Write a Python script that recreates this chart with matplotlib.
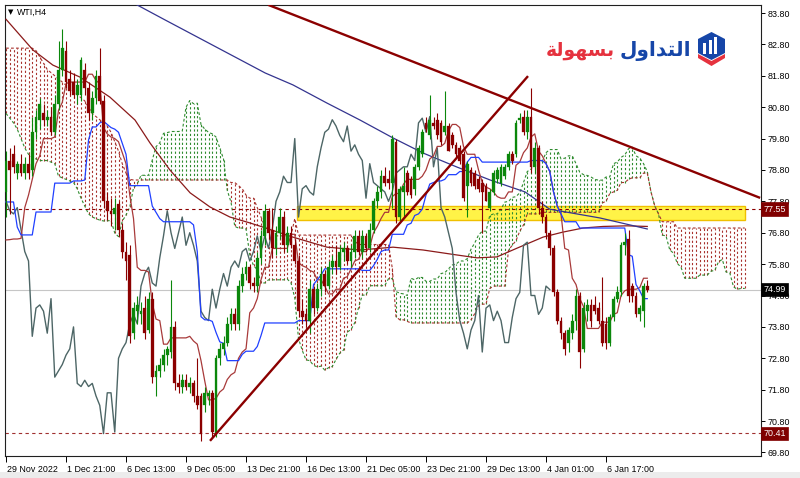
import numpy as np
import pandas as pd
import matplotlib
matplotlib.use("Agg")
import matplotlib.pyplot as plt
import matplotlib.transforms as mtrans
from matplotlib.patches import Rectangle, Polygon
from matplotlib.collections import LineCollection

# ---------------- data (WTI, H4) ----------------
opens = [78.1, 79.1, 79.3, 78.7, 79.0, 78.7, 79.0, 78.8, 80.0, 80.4,
         80.6, 80.4, 80.5, 80.0, 80.9, 82.0, 82.6, 81.7, 81.6, 81.2,
         81.2, 82.0, 81.4, 80.6, 81.1, 81.8, 81.0, 77.8, 77.5, 77.4,
         77.7, 76.9, 76.2, 76.1, 73.6, 74.3, 74.2, 74.4, 73.7, 74.7,
         72.2, 72.4, 72.6, 72.9, 73.0, 73.8, 72.0, 71.9, 72.1, 71.9,
         72.0, 71.6, 71.6, 71.3, 71.6, 71.7, 70.4, 72.8, 73.1, 73.3,
         73.9, 74.2, 73.9, 75.1, 75.5, 75.7, 75.2, 75.1, 76.0, 76.7,
         77.5, 76.9, 76.3, 76.8, 77.3, 76.4, 76.8, 76.4, 75.9, 74.3,
         74.2, 74.0, 75.0, 74.4, 75.0, 75.5, 75.1, 75.7, 75.9, 75.7,
         76.2, 76.3, 75.9, 76.2, 76.7, 76.2, 76.7, 76.3, 76.9, 77.8,
         78.1, 78.6, 78.5, 78.4, 79.7, 77.3, 78.1, 78.7, 78.5, 78.2,
         78.9, 79.3, 80.3, 79.9, 80.3, 80.4, 80.3, 80.0, 80.2, 79.9,
         79.6, 79.5, 79.3, 78.3, 78.8, 78.7, 78.5, 78.4, 78.3, 77.6,
         78.1, 78.5, 78.4, 78.6, 78.9, 79.3, 79.3, 80.4, 80.5, 80.0,
         80.5, 78.9, 79.5, 77.6, 77.3, 76.8, 76.3, 74.9, 74.0, 73.6,
         73.3, 73.6, 74.0, 74.8, 73.1, 74.3, 74.5, 74.5, 74.4, 74.0,
         73.9, 73.3, 74.1, 74.7, 74.9, 76.4, 76.6, 75.1, 74.8, 74.2,
         74.3, 75.1]
highs = [79.4, 79.5, 79.6, 79.1, 79.3, 79.2, 79.3, 80.5, 80.7, 81.1,
         80.9, 80.7, 80.8, 81.2, 82.9, 83.3, 82.9, 82.0, 81.9, 81.7,
         82.4, 82.2, 81.6, 81.3, 82.0, 82.7, 81.2, 78.1, 77.9, 77.9,
         77.8, 77.1, 76.5, 76.4, 74.6, 74.8, 74.6, 74.8, 74.9, 74.9,
         72.6, 72.8, 73.1, 73.2, 75.3, 74.0, 72.3, 72.3, 72.3, 72.2,
         72.1, 72.8, 71.7, 71.9, 71.8, 71.8, 72.9, 73.3, 73.5, 74.1,
         74.4, 74.4, 75.3, 75.7, 75.9, 75.8, 75.4, 76.2, 76.9, 77.7,
         77.6, 77.6, 77.0, 77.6, 77.5, 77.0, 77.0, 76.6, 76.1, 74.7,
         74.4, 75.3, 75.1, 75.2, 75.7, 75.6, 75.9, 76.1, 76.4, 76.4,
         76.5, 76.4, 76.4, 76.9, 76.9, 76.9, 76.8, 77.1, 77.9, 78.3,
         78.8, 78.9, 78.8, 79.9, 79.8, 78.3, 78.9, 78.8, 78.6, 79.0,
         79.6, 80.1, 80.5, 81.2, 80.5, 80.6, 80.4, 81.3, 80.3, 80.0,
         79.7, 79.6, 79.4, 79.1, 78.9, 78.8, 78.6, 78.5, 78.4, 78.2,
         78.8, 78.9, 79.0, 79.0, 79.4, 79.4, 80.4, 80.6, 80.7, 80.7,
         81.4, 79.7, 79.6, 77.8, 77.4, 76.9, 76.4, 75.0, 74.1, 73.7,
         73.8, 74.2, 75.0, 74.9, 74.6, 74.7, 74.7, 74.8, 74.6, 75.4,
         74.1, 74.2, 74.8, 75.1, 76.5, 76.8, 76.9, 75.2, 74.9, 74.5,
         75.2, 75.3]
lows = [77.3, 77.4, 78.7, 78.5, 78.6, 78.5, 78.5, 78.6, 79.8, 80.1,
        80.2, 80.2, 79.9, 79.9, 80.7, 81.8, 81.4, 81.2, 81.1, 80.9,
        81.0, 81.2, 80.4, 80.4, 80.9, 80.9, 77.6, 77.2, 77.0, 76.9,
        76.7, 76.0, 75.3, 73.3, 73.4, 73.9, 73.9, 73.4, 73.6, 72.0,
        71.6, 72.2, 72.4, 72.6, 72.8, 71.8, 71.7, 71.7, 71.8, 71.7,
        71.4, 71.2, 70.15, 71.1, 71.3, 70.3, 70.3, 72.6, 72.9, 73.2,
        73.7, 73.7, 73.7, 74.9, 75.3, 75.0, 74.9, 74.9, 75.8, 76.4,
        76.6, 76.0, 76.1, 76.6, 76.2, 76.2, 76.3, 75.8, 74.1, 73.9,
        73.8, 73.6, 74.2, 74.3, 74.8, 74.9, 75.0, 75.5, 75.5, 75.6,
        75.9, 75.8, 75.7, 76.0, 76.1, 76.0, 76.2, 76.2, 76.8, 77.6,
        77.9, 78.3, 78.2, 77.6, 77.1, 77.1, 77.3, 78.0, 77.9, 78.0,
        78.8, 79.2, 80.0, 79.8, 80.1, 79.8, 79.6, 79.9, 79.4, 79.5,
        79.2, 79.0, 77.8, 77.3, 78.3, 78.2, 78.1, 76.8, 77.8, 77.5,
        78.0, 78.4, 78.3, 78.5, 78.8, 79.0, 79.2, 80.3, 79.9, 79.8,
        78.7, 78.7, 77.4, 77.1, 76.6, 76.1, 74.8, 73.9, 73.4, 72.9,
        73.0, 73.4, 73.7, 72.5, 73.0, 74.0, 73.8, 74.2, 73.9, 73.2,
        73.1, 73.2, 74.0, 74.6, 74.8, 76.1, 74.6, 74.6, 74.1, 74.0,
        73.8, 74.9]
closes = [79.1, 78.8, 78.9, 79.0, 78.7, 79.0, 78.7, 80.0, 80.5, 80.9,
          80.4, 80.5, 80.0, 80.9, 82.0, 82.7, 81.6, 81.3, 81.2, 81.5,
          82.3, 81.4, 80.6, 81.1, 81.8, 81.0, 77.8, 77.5, 77.4, 77.6,
          76.9, 76.2, 75.9, 73.5, 74.4, 74.5, 74.3, 73.6, 74.7, 72.2,
          72.4, 72.6, 72.9, 73.1, 73.8, 72.0, 71.9, 72.1, 71.9, 72.0,
          71.6, 71.3, 70.4, 71.7, 71.7, 70.45, 72.8, 73.1, 73.3, 73.9,
          74.2, 73.9, 75.1, 75.5, 75.7, 75.2, 75.1, 76.0, 76.7, 77.5,
          76.8, 76.3, 76.8, 77.3, 76.4, 76.8, 76.4, 75.9, 74.3, 74.1,
          74.0, 75.0, 74.4, 75.0, 75.5, 75.1, 75.7, 75.9, 75.7, 76.2,
          76.3, 75.9, 76.2, 76.7, 76.2, 76.7, 76.3, 76.9, 77.8, 78.1,
          78.6, 78.4, 78.4, 79.8, 77.3, 78.2, 78.3, 78.1, 78.0, 78.9,
          79.5, 80.0, 80.1, 80.4, 80.2, 79.9, 79.7, 80.2, 79.4, 79.6,
          79.3, 79.1, 77.9, 79.0, 78.4, 78.3, 78.2, 78.1, 77.8, 78.1,
          78.7, 78.8, 78.9, 78.9, 79.3, 79.1, 80.3, 80.45, 80.0, 80.5,
          78.9, 79.5, 77.6, 77.3, 76.8, 76.3, 74.9, 74.0, 73.6, 73.1,
          73.7, 74.0, 74.8, 73.0, 74.4, 74.5, 74.0, 74.3, 74.0, 73.3,
          73.3, 74.1, 74.7, 74.9, 76.4, 76.5, 74.8, 74.8, 74.2, 74.4,
          75.1, 74.99]

# Ichimoku values visible before enough history exists
tenkan_head = [76.57, 76.58, 76.6, 76.6, 76.62, 77.6, 78.0, 78.5]
kijun_head = [77.78, 77.78, 77.78, 76.98, 76.73, 76.73, 76.73, 76.73, 77.46, 77.46,
              77.46, 77.46, 77.46, 78.38, 78.38, 78.38, 78.38, 78.38, 78.45, 78.45,
              78.45, 78.48, 79.75, 80.17, 80.17]
spanA_head = [80.6, 80.45, 80.3, 80.1, 79.8, 79.5, 79.3, 79.2, 79.15, 79.1,
              79.1, 79.1, 79.05, 79.0, 78.6, 78.55, 78.5, 78.45, 78.4, 78.2,
              77.9, 77.65, 77.4, 77.3, 77.25, 77.2]
spanB_head = [82.68, 82.68, 82.68, 82.68, 82.68, 82.68, 82.68, 82.68, 82.6, 82.4,
              82.2, 82.0, 81.9, 81.8, 81.7, 81.6, 81.5, 81.4, 81.3, 81.2,
              81.1, 81.0, 80.8, 80.6, 80.5, 80.4, 80.3, 80.2, 80.0, 79.7,
              79.4, 79.0, 78.7, 78.5, 78.48, 78.48, 78.48, 78.48, 78.48, 78.48,
              78.48, 78.48, 78.48, 78.48, 78.48, 78.48, 78.48, 78.48, 78.48, 78.48,
              78.48, 78.48, 78.48, 78.48, 78.48, 78.48, 78.48, 78.48, 78.48, 78.48,
              78.4, 78.4, 78.3, 78.2, 78.0, 77.9, 77.9, 77.6, 77.3, 77.0,
              76.9, 76.8, 76.7, 76.7, 76.7, 76.7, 76.7]

# moving averages (bar index, price)
ma_slow_bars = [0, 7.2, 12.5, 19.7, 27.7, 34.4, 38.4, 43.7, 49.1, 54.4, 59.7, 65.1, 68.5,
                76.5, 85.6, 94.4, 103.2, 111.2, 120.3, 125.6, 130.9, 136.3, 143.2,
                148.5, 153.9, 159.2, 165.6, 171]
ma_slow_vals = [83.6, 82.62, 82.14, 81.76, 81.12, 80.39, 79.66, 78.8, 78.07, 77.62, 77.3,
                77.11, 76.98, 76.66, 76.34, 76.25, 76.34, 76.25, 76.09, 76.0, 76.03,
                76.31, 76.66, 76.82, 76.95, 77.0, 77.02, 77.0]
ma_long_bars = [34.9, 42.4, 69.1, 76.5, 85.6, 94.4, 103.2, 111.2, 120.3, 129.1, 138.4,
                145, 158.4, 171]
ma_long_vals = [84.06, 83.58, 81.89, 81.51, 80.93, 80.39, 79.82, 79.34, 78.89, 78.48,
                78.10, 77.55, 77.27, 76.92]

# drawn objects
up_trend = [(54.4, 70.17), (139.2, 81.79)]
down_trend = [(69.9, 84.06), (201.1, 77.91)]
zone_bars = (77.6, 197.1)
zone_prices = (77.21, 77.65)
level_hi = 77.55
level_lo = 70.41
last_price = 74.99

date_ticks = [0, 16, 32, 48, 64, 80, 96, 112, 128, 144, 160]
date_labels = ["29 Nov 2022", "1 Dec 21:00", "6 Dec 13:00", "9 Dec 05:00", "13 Dec 21:00",
               "16 Dec 13:00", "21 Dec 05:00", "23 Dec 21:00", "29 Dec 13:00",
               "4 Jan 01:00", "6 Jan 17:00"]
price_ticks = [69.80, 70.80, 71.80, 72.80, 73.80, 74.80, 75.80, 76.80, 77.80, 78.80,
               79.80, 80.80, 81.80, 82.80, 83.80]

# ---------------- indicators ----------------
N = len(closes)
hi = pd.Series(highs)
lo = pd.Series(lows)
tenkan = ((hi.rolling(9).max() + lo.rolling(9).min()) / 2).values
tenkan[:8] = tenkan_head
kijun = ((hi.rolling(26).max() + lo.rolling(26).min()) / 2).values
kijun[:25] = kijun_head
mid52 = ((hi.rolling(52).max() + lo.rolling(52).min()) / 2).values
M = N + 26
spanA = np.empty(M)
spanA[:26] = spanA_head
spanA[26:] = (tenkan + kijun) / 2
spanB = np.empty(M)
spanB[:77] = spanB_head
spanB[77:] = mid52[51:]

# ---------------- figure ----------------
W, H = 800, 478
fig = plt.figure(figsize=(8, 4.78), dpi=100)
fig.patch.set_facecolor("white")
LAB = "Liberation Sans"


def fx(px):
    return px / W


def fy(py):
    return 1 - py / H


ax = fig.add_axes([fx(5), fy(456), fx(761) - fx(5), fy(5) - fy(456)])
ax.set_xlim(-0.27, 201.33)
ax.set_ylim(69.687, 84.055)
ax.set_facecolor("white")

RED = "#8b0000"
GREEN = "#0b870b"
x = np.arange(N)
o = np.array(opens); h = np.array(highs); l = np.array(lows); c = np.array(closes)

# zone rectangle (background object)
ax.add_patch(Rectangle((zone_bars[0], zone_prices[0]), zone_bars[1] - zone_bars[0],
                       zone_prices[1] - zone_prices[0], facecolor="#fff347",
                       edgecolor="#f0c000", lw=1.0, zorder=0.5))

# current price line
ax.axhline(last_price, color="#c6c6c6", lw=0.8, zorder=0.8)

# cloud hatching
xm = np.arange(M)
segs_g, segs_r = [], []
for j in range(M):
    a, b = spanA[j], spanB[j]
    seg = [(j, min(a, b)), (j, max(a, b))]
    (segs_g if a >= b else segs_r).append(seg)
ax.add_collection(LineCollection(segs_g, colors="#2e8b2e", linewidths=0.8,
                                 linestyles=[(0, (2.0, 2.0))], zorder=1))
ax.add_collection(LineCollection(segs_r, colors="#a8322d", linewidths=0.8,
                                 linestyles=[(0, (2.0, 2.0))], zorder=1))
ax.plot(xm, spanA, color="#2e8b2e", lw=0.8, ls=(0, (2.5, 2)), zorder=1.2)
ax.plot(xm, spanB, color="#a8322d", lw=0.8, ls=(0, (2.5, 2)), zorder=1.2)

# level lines
ax.axhline(level_hi, color=RED, lw=0.8, ls=(0, (3, 3)), zorder=2)
ax.axhline(level_lo, color="#a03030", lw=0.8, ls=(0, (3, 3)), zorder=2)

# moving averages
ax.plot(ma_slow_bars, ma_slow_vals, color="#8b1a1a", lw=0.9, zorder=3)
ax.plot(ma_long_bars, ma_long_vals, color="#34348f", lw=0.9, zorder=3)

# ichimoku lines
ax.plot(x[26:] - 26, c[26:], color="#4d6666", lw=1.0, zorder=3)
ax.plot(x, tenkan, color="#a83a3a", lw=0.9, zorder=3.2)
ax.plot(x, kijun, color="#2040ff", lw=0.9, zorder=3.2)

# candles
up = c >= o
col = np.where(up, GREEN, RED)
ax.vlines(x, l, h, colors=col, lw=0.8, zorder=5)
body_lo = np.minimum(o, c)
body_h = np.maximum(np.abs(c - o), 0.03)
ax.bar(x, body_h, bottom=body_lo, width=0.68, color=col, edgecolor=col, lw=0.2, zorder=6)

# trend lines
ax.plot([p[0] for p in up_trend], [p[1] for p in up_trend], color="#8b0000", lw=1.7,
        zorder=7, solid_capstyle="butt")
ax.plot([p[0] for p in down_trend], [p[1] for p in down_trend], color="#8b0000", lw=1.7,
        zorder=7, solid_capstyle="butt")

# axes styling
for s in ax.spines.values():
    s.set_color("#202020")
    s.set_linewidth(0.8)
ax.yaxis.tick_right()
ax.set_yticks(price_ticks)
ax.set_yticklabels([f"{v:.2f}" for v in price_ticks], family=LAB)
ax.set_xticks(date_ticks)
ax.set_xticklabels(date_labels, ha="left", family=LAB)
ax.tick_params(axis="y", direction="out", length=3, width=0.7, pad=2, labelsize=6.4,
               colors="#000000")
ax.tick_params(axis="x", direction="out", length=4, width=0.7, pad=2.5, labelsize=6.4,
               colors="#000000")
for lab in ax.get_xticklabels():
    lab.set_transform(lab.get_transform() + mtrans.ScaledTranslation(1 / 100, 0, fig.dpi_scale_trans))

# price boxes on the right axis
bt = mtrans.blended_transform_factory(ax.transAxes, ax.transData)
for val, fc in [(level_hi, "#800000"), (last_price, "#000000"), (level_lo, "#800000")]:
    ax.text(1.003, val, f"{val:.2f}", transform=bt, ha="left", va="center", fontsize=6.4,
            color="white", zorder=20, clip_on=False, family=LAB,
            bbox=dict(boxstyle="square,pad=0.25", fc=fc, ec=fc, lw=0.5))

# symbol label
fig.text(fx(8), fy(12), "\u25bc", fontsize=5, color="#000000", va="center", ha="left")
fig.text(fx(17), fy(12), "WTI,H4", fontsize=6.4, color="#000000", va="center", ha="left",
         family=LAB)

# logo text (Arabic, shaped presentation forms, visual order)
word_red = "\uFE94\uFEDF\uFEEE\uFEEC\uFEB4\uFE91"        # بسهولة
word_blue = "\uFEDD\uFEED\uFE8D\uFEAA\uFE98\uFEDF\uFE8D"   # التداول
fig.text(fx(691), fy(51), word_blue, fontsize=14.5, fontweight="bold", color="#1646a8",
         ha="right", va="center", family="DejaVu Sans")
fig.text(fx(615), fy(51), word_red, fontsize=13.5, fontweight="bold", color="#e5323e",
         ha="right", va="center", family="DejaVu Sans")

# logo icon
iax = fig.add_axes([fx(696), fy(70), fx(727) - fx(696), fy(31) - fy(70)])
iax.set_xlim(0, 31)
iax.set_ylim(0, 39)
iax.axis("off")
iax.add_patch(Polygon([(2, 12), (15.5, 4), (29, 12), (29, 16), (15.5, 9), (2, 16)],
                      closed=True, fc="#e5323e", ec="none"))
iax.add_patch(Polygon([(2, 17), (2, 31), (15.5, 38), (29, 31), (29, 17), (15.5, 10)],
                      closed=True, fc="#1646a8", ec="none"))
for bx, btop in [(7, 27), (12.5, 30), (18, 33)]:
    iax.add_patch(Rectangle((bx, 16), 3.2, btop - 16, fc="white", ec="none"))

# bottom window strip
fig.patches.append(Rectangle((0, 0), 1, fy(472), transform=fig.transFigure,
                             fc="#ececec", ec="none", zorder=-1))

fig.savefig("out.png", dpi=100, facecolor=fig.get_facecolor())
